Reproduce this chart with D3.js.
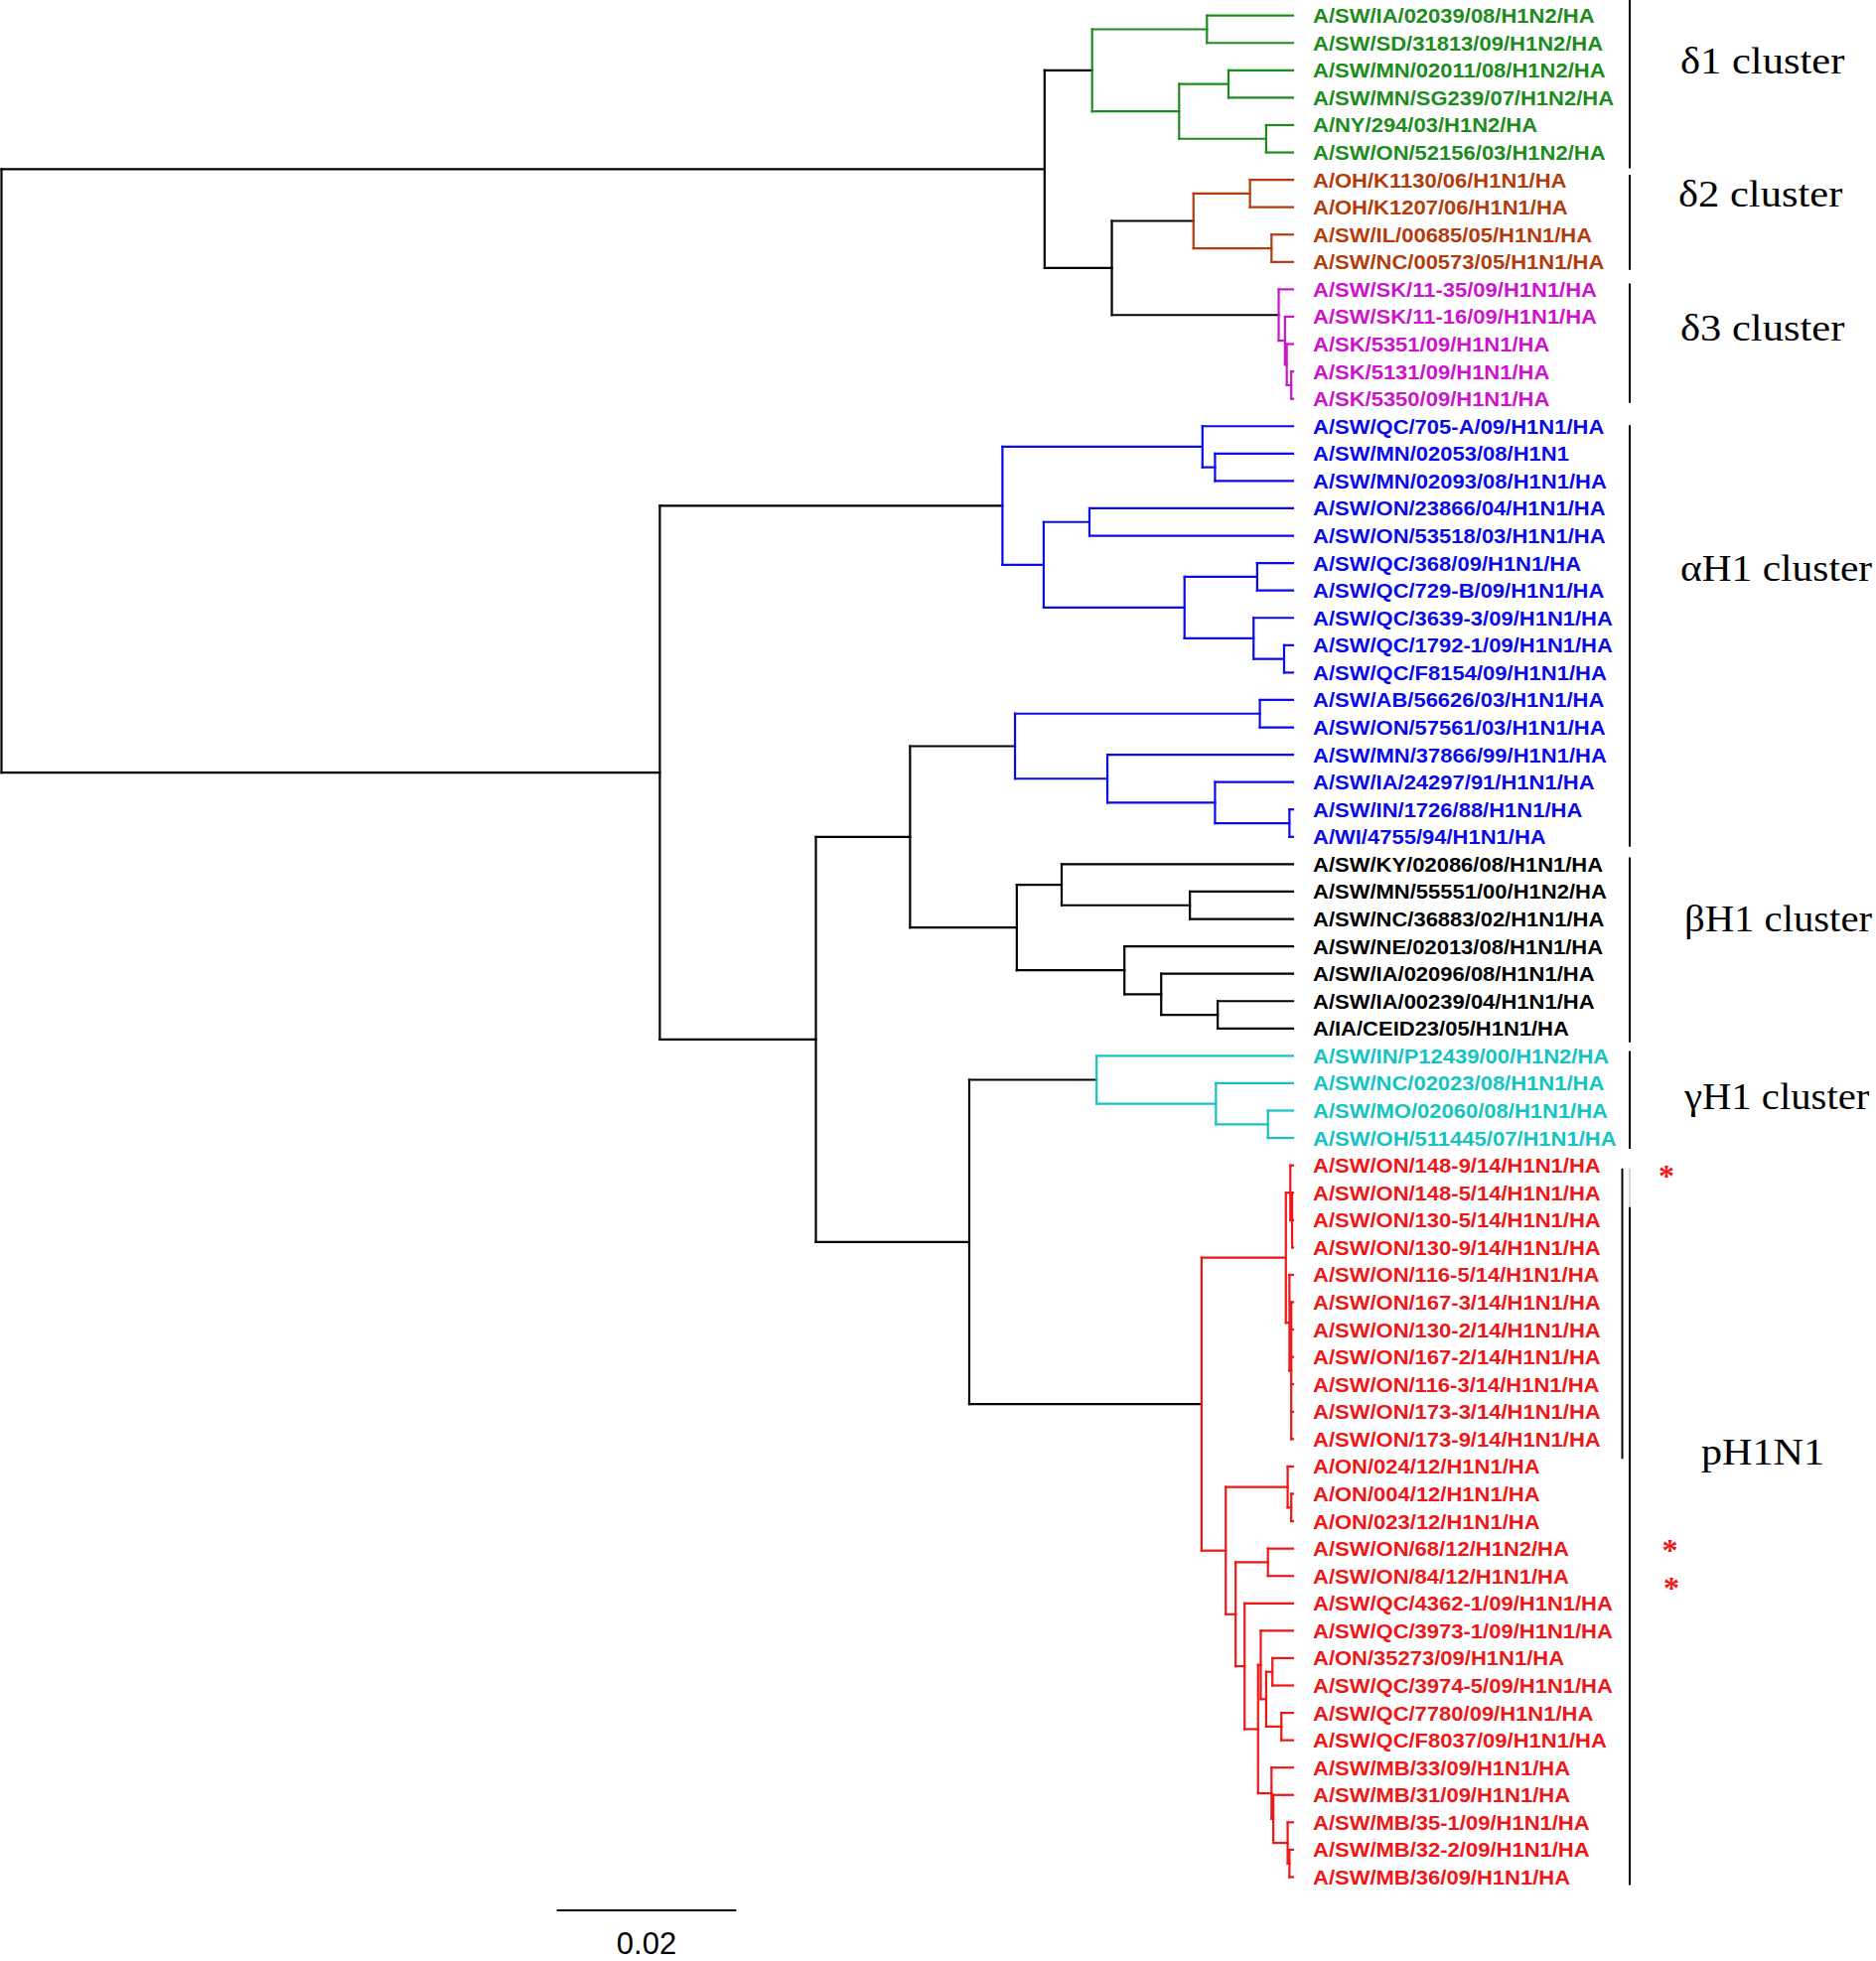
<!DOCTYPE html>
<html>
<head>
<meta charset="utf-8">
<script src="https://cdn.jsdelivr.net/npm/d3@7"></script>
<style>
  html, body { margin: 0; padding: 0; background: #fff; }
  svg { display: block; }
</style>
</head>
<body>
<svg id="chart" width="1889" height="1975"></svg>
<script>
// ---------------- DATA ----------------
const leafNames = [
  "A/SW/IA/02039/08/H1N2/HA", "A/SW/SD/31813/09/H1N2/HA", "A/SW/MN/02011/08/H1N2/HA",
  "A/SW/MN/SG239/07/H1N2/HA", "A/NY/294/03/H1N2/HA", "A/SW/ON/52156/03/H1N2/HA",
  "A/OH/K1130/06/H1N1/HA", "A/OH/K1207/06/H1N1/HA", "A/SW/IL/00685/05/H1N1/HA",
  "A/SW/NC/00573/05/H1N1/HA",
  "A/SW/SK/11-35/09/H1N1/HA", "A/SW/SK/11-16/09/H1N1/HA", "A/SK/5351/09/H1N1/HA",
  "A/SK/5131/09/H1N1/HA", "A/SK/5350/09/H1N1/HA",
  "A/SW/QC/705-A/09/H1N1/HA", "A/SW/MN/02053/08/H1N1", "A/SW/MN/02093/08/H1N1/HA",
  "A/SW/ON/23866/04/H1N1/HA", "A/SW/ON/53518/03/H1N1/HA", "A/SW/QC/368/09/H1N1/HA",
  "A/SW/QC/729-B/09/H1N1/HA", "A/SW/QC/3639-3/09/H1N1/HA", "A/SW/QC/1792-1/09/H1N1/HA",
  "A/SW/QC/F8154/09/H1N1/HA", "A/SW/AB/56626/03/H1N1/HA", "A/SW/ON/57561/03/H1N1/HA",
  "A/SW/MN/37866/99/H1N1/HA", "A/SW/IA/24297/91/H1N1/HA", "A/SW/IN/1726/88/H1N1/HA",
  "A/WI/4755/94/H1N1/HA",
  "A/SW/KY/02086/08/H1N1/HA", "A/SW/MN/55551/00/H1N2/HA", "A/SW/NC/36883/02/H1N1/HA",
  "A/SW/NE/02013/08/H1N1/HA", "A/SW/IA/02096/08/H1N1/HA", "A/SW/IA/00239/04/H1N1/HA",
  "A/IA/CEID23/05/H1N1/HA",
  "A/SW/IN/P12439/00/H1N2/HA", "A/SW/NC/02023/08/H1N1/HA", "A/SW/MO/02060/08/H1N1/HA",
  "A/SW/OH/511445/07/H1N1/HA",
  "A/SW/ON/148-9/14/H1N1/HA", "A/SW/ON/148-5/14/H1N1/HA", "A/SW/ON/130-5/14/H1N1/HA",
  "A/SW/ON/130-9/14/H1N1/HA", "A/SW/ON/116-5/14/H1N1/HA", "A/SW/ON/167-3/14/H1N1/HA",
  "A/SW/ON/130-2/14/H1N1/HA", "A/SW/ON/167-2/14/H1N1/HA", "A/SW/ON/116-3/14/H1N1/HA",
  "A/SW/ON/173-3/14/H1N1/HA", "A/SW/ON/173-9/14/H1N1/HA", "A/ON/024/12/H1N1/HA",
  "A/ON/004/12/H1N1/HA", "A/ON/023/12/H1N1/HA", "A/SW/ON/68/12/H1N2/HA",
  "A/SW/ON/84/12/H1N1/HA", "A/SW/QC/4362-1/09/H1N1/HA", "A/SW/QC/3973-1/09/H1N1/HA",
  "A/ON/35273/09/H1N1/HA", "A/SW/QC/3974-5/09/H1N1/HA", "A/SW/QC/7780/09/H1N1/HA",
  "A/SW/QC/F8037/09/H1N1/HA", "A/SW/MB/33/09/H1N1/HA", "A/SW/MB/31/09/H1N1/HA",
  "A/SW/MB/35-1/09/H1N1/HA", "A/SW/MB/32-2/09/H1N1/HA", "A/SW/MB/36/09/H1N1/HA"
];

const leafGroups = [
  "d1","d1","d1","d1","d1","d1",
  "d2","d2","d2","d2",
  "d3","d3","d3","d3","d3",
  "a","a","a","a","a","a","a","a","a","a","a","a","a","a","a","a",
  "b","b","b","b","b","b","b",
  "g","g","g","g",
  "p","p","p","p","p","p","p","p","p","p","p","p","p","p","p","p",
  "p","p","p","p","p","p","p","p","p","p","p"
];

// Tree topology with branch lengths (leaf names are indices into leafNames)
const treeNewick = `(
 (
  ((0:0.0096,1:0.0096):0.0128,((2:0.0072,3:0.0072):0.0055,(4:0.0030,5:0.0030):0.0097):0.0097):0.0053,
  (((6:0.0048,7:0.0048):0.0063,(8:0.0024,9:0.0024):0.0087):0.0091,
   (10:0.0016,(11:0.0009,(12:0.0007,(13:0.0002,14:0.0002):0.0005):0.0002):0.0007):0.0186):0.0075
 ):0.1163,
 (
  ((15:0.0101,(16:0.0087,17:0.0087):0.0014):0.0223,
   ((18:0.0227,19:0.0227):0.0051,((20:0.0040,21:0.0040):0.0081,(22:0.0044,(23:0.0010,24:0.0010):0.0034):0.0077):0.0157):0.0046
  ):0.0382,
  (
   (
    ((25:0.0037,26:0.0037):0.0273,(27:0.0207,(28:0.0087,(29:0.0004,30:0.0004):0.0083):0.0120):0.0103):0.0117,
    ((31:0.0258,(32:0.0115,33:0.0115):0.0143):0.0050,(34:0.0188,(35:0.0147,(36:0.0084,37:0.0084):0.0063):0.0041):0.0120):0.0119
   ):0.0105,
   (
    (38:0.0219,(39:0.0086,(40:0.0028,41:0.0028):0.0058):0.0133):0.0142,
    (
     ((42:0.0003,(43:0.0001,44:0.0001,45:0.0001):0.0002):0.0005,(46:0.0004,(47:0.0002,48:0.0002,49:0.0002,50:0.0002,51:0.0002,52:0.0002):0.0002):0.0004):0.0094,
     ((53:0.0006,(54:0.0002,55:0.0002):0.0004):0.0069,
      ((56:0.0028,57:0.0028):0.0036,
       (58:0.0054,
        ((59:0.0036,((60:0.0023,61:0.0023):0.0007,(62:0.0013,63:0.0013):0.0017):0.0006):0.0003,
         (64:0.0024,(65:0.0022,(66:0.0006,(67:0.0004,68:0.0004):0.0002):0.0016):0.0002):0.0015
        ):0.0015
       ):0.0010
      ):0.0011
     ):0.0027
    ):0.0259
   ):0.0171
  ):0.0174
 ):0.0734
);`;

const clusterNames = ["δ1 cluster", "δ2 cluster", "δ3 cluster", "αH1 cluster", "βH1 cluster", "γH1 cluster", "pH1N1"];
const clusterGroups = ["d1", "d2", "d3", "a", "b", "g", "p"];
const scaleBarValue = 0.02;
const scaleBarLabel = "0.02";
const markedLeaves = [42, 56, 57];  // asterisks

// ---------------- STYLE ----------------
const groupColor = {
  d1: "#1c8c1c", d2: "#b23c0c", d3: "#cc14cc", a: "#0a0ae8",
  b: "#000000", g: "#14c4c4", p: "#ee1616"
};

// ---------------- PARSE ----------------
function parseNewick(str) {
  const s = str.replace(/\s+/g, "");
  let i = 0;
  function node() {
    const n = {};
    if (s[i] === "(") {
      i++;
      n.children = [];
      n.children.push(node());
      while (s[i] === ",") { i++; n.children.push(node()); }
      i++; // ')'
    }
    let name = "";
    while (i < s.length && !",():;".includes(s[i])) name += s[i++];
    n.name = name;
    if (s[i] === ":") {
      i++;
      let len = "";
      while (i < s.length && !",();".includes(s[i])) len += s[i++];
      n.length = +len;
    } else n.length = 0;
    return n;
  }
  return node();
}

const root = d3.hierarchy(parseNewick(treeNewick));
root.eachBefore(n => { n.dist = n.parent ? n.parent.dist + n.data.length : 0; });
const maxDist = d3.max(root.leaves(), d => d.dist);

// ---------------- SCALES ----------------
const W = 1889, H = 1975;
const x = d3.scaleLinear().domain([0, maxDist]).range([1.5, 1302]);
const y = d3.scalePoint().domain(d3.range(leafNames.length)).range([15.7, 1890.5]);

root.eachAfter(n => {
  if (!n.children) {
    n.idx = +n.data.name;
    n.y = y(n.idx);
    n.group = leafGroups[n.idx];
  } else {
    n.y = (n.children[0].y + n.children[n.children.length - 1].y) / 2;
    const g = n.children[0].group;
    n.group = n.children.every(c => c.group === g) ? g : null;
  }
  n.x = x(n.dist);
});
const colorOf = n => (n && n.group) ? groupColor[n.group] : "#000";

const svg = d3.select("#chart");
svg.append("rect").attr("width", W).attr("height", H).attr("fill", "#fff");

const gTree = svg.append("g")
  .attr("fill", "none")
  .attr("stroke-width", 2.2)
  .attr("stroke-linecap", "square");

// horizontal branches
gTree.selectAll("line.h")
  .data(root.descendants().filter(n => n.parent))
  .join("line")
  .attr("class", "h")
  .attr("x1", d => d.parent.x).attr("x2", d => d.x)
  .attr("y1", d => d.y).attr("y2", d => d.y)
  .attr("stroke", d => colorOf(d.parent));

// vertical connectors
gTree.selectAll("line.v")
  .data(root.descendants().filter(n => n.children))
  .join("line")
  .attr("class", "v")
  .attr("x1", d => d.x).attr("x2", d => d.x)
  .attr("y1", d => d.children[0].y)
  .attr("y2", d => d.children[d.children.length - 1].y)
  .attr("stroke", d => colorOf(d));

// leaf labels
const labelX = x(maxDist) + 20;
svg.append("g").selectAll("text")
  .data(root.leaves())
  .join("text")
  .attr("transform", d => `translate(${labelX},${d.y + 7.5}) scale(1.1,1)`)
  .attr("font-family", "'Liberation Sans', Arial, sans-serif")
  .attr("font-weight", "bold")
  .attr("font-size", 20)
  .attr("fill", d => groupColor[d.group])
  .text(d => leafNames[d.idx]);

// cluster brackets and labels
const leavesByGroup = d3.group(root.leaves(), d => d.group);
const bracketX = 1641;
const gBr = svg.append("g").attr("stroke", "#000").attr("stroke-width", 2);
const labelPos = {
  d1: [1692, 74, 1.15], d2: [1690, 208, 1.15], d3: [1692, 343, 1.15], a: [1692, 585, 1.12],
  b: [1696, 938, 1.1], g: [1696, 1117, 1.1], p: [1713, 1475, 1.14]
};
const bracketPad = { d1: [16, 6], d2: [-5, -2], d3: [-4, -6], a: [-9, 0], b: [-3, 4], g: [-5, 1], p: [-4, 8] };

clusterGroups.forEach((g, k) => {
  const ls = leavesByGroup.get(g);
  const y0 = ls[0].y, y1 = ls[ls.length - 1].y;
  const pad = bracketPad[g];
  if (g === "p") {
    // inner bracket for the 2014 isolates
    const inner = ls.filter(d => d.idx <= 52);
    gBr.append("line")
      .attr("x1", bracketX - 7.5).attr("x2", bracketX - 7.5)
      .attr("y1", inner[0].y + 3).attr("y2", inner[inner.length - 1].y + 20);
    gBr.append("line")
      .attr("x1", bracketX).attr("x2", bracketX)
      .attr("y1", y0 + 3).attr("y2", y0 + 42)
      .attr("stroke", "#c8c8c8").attr("stroke-width", 1.5);
    gBr.append("line")
      .attr("x1", bracketX).attr("x2", bracketX)
      .attr("y1", y0 + 42).attr("y2", y1 + pad[1]);
  } else {
    gBr.append("line")
      .attr("x1", bracketX).attr("x2", bracketX)
      .attr("y1", y0 - pad[0] - 10).attr("y2", y1 + pad[1] + 10);
  }
  const lp = labelPos[g];
  svg.append("text")
    .attr("transform", `translate(${lp[0]},${lp[1]}) scale(${lp[2]},1)`)
    .attr("font-family", "'Liberation Serif', 'Times New Roman', serif")
    .attr("font-size", 37)
    .attr("fill", "#000")
    .text(clusterNames[k]);
});

// asterisks
const starX = [1678, 1681.5, 1683];
const starDy = [21.5, 12.5, 23];
svg.append("g").selectAll("text")
  .data(markedLeaves)
  .join("text")
  .attr("x", (d, i) => starX[i])
  .attr("y", (d, i) => y(d) + starDy[i])
  .attr("text-anchor", "middle")
  .attr("font-family", "'Liberation Serif', 'Times New Roman', serif")
  .attr("font-weight", "bold")
  .attr("font-size", 32)
  .attr("fill", "#ee1616")
  .text("*");

// scale bar
const sbX0 = 560.7, sbY = 1924;
svg.append("line")
  .attr("x1", sbX0).attr("x2", sbX0 + x(scaleBarValue) - x(0))
  .attr("y1", sbY).attr("y2", sbY)
  .attr("stroke", "#000").attr("stroke-width", 2);
svg.append("text")
  .attr("x", sbX0 + (x(scaleBarValue) - x(0)) / 2)
  .attr("y", 1968)
  .attr("text-anchor", "middle")
  .attr("font-family", "'Liberation Sans', Arial, sans-serif")
  .attr("font-size", 31)
  .attr("fill", "#000")
  .text(scaleBarLabel);
</script>
</body>
</html>
